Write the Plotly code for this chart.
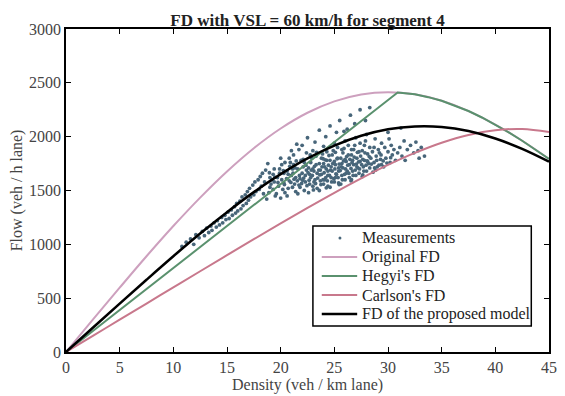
import plotly.graph_objects as go

# ---------------- data ----------------
density_grid = [0, 2.5, 5, 7.5, 10, 12.5, 15, 17.5, 20, 22.5, 25, 27.5, 30,
                32.5, 35, 37.5, 40, 42.5, 45]
original_fd = [0, 300, 597, 889, 1170, 1434, 1677, 1893, 2076, 2222, 2328, 2392,
               2413, 2393, 2333, 2238, 2112, 1962, 1794]
carlson_fd = [0, 150, 300, 450, 600, 750, 899, 1048, 1195, 1339, 1479, 1613,
              1738, 1849, 1944, 2016, 2060, 2071, 2043]
proposed_fd = [0, 225, 449, 671, 889, 1100, 1299, 1485, 1652, 1798, 1917, 2008,
               2068, 2095, 2090, 2052, 1983, 1886, 1767]
hegyi_density = [0, 30.9, 32.5, 33.75, 35, 36.25, 37.5, 38.75, 40, 41.25, 42.5, 43.75, 45]
hegyi_fd = [0, 2410, 2393, 2367, 2333, 2289, 2238, 2178, 2112, 2039, 1962, 1879, 1794]

meas_density = [
    10.8, 11.2, 11.6, 11.9, 12.1, 12.4, 12.7, 12.9, 13.1, 13.3, 13.5, 13.6, 13.8, 14.0, 14.1, 14.3,
    14.5, 14.6, 14.8, 14.9, 15.1, 15.2, 15.4, 15.5, 15.7, 15.8, 15.9, 16.0, 16.2, 16.3, 16.4, 16.5,
    16.7, 16.8, 16.9, 17.0, 17.1, 17.2, 17.4, 17.5, 17.6, 17.7, 17.9, 18.0, 18.1, 18.2, 18.3, 18.4,
    18.5, 18.6,
    18.7, 18.9, 19.0, 19.2, 19.3, 19.1, 19.4, 18.8, 19.5, 19.3, 19.0, 19.4,
    19.6, 19.8, 20.0, 20.1, 20.3, 20.2, 19.9, 20.4, 20.0, 20.4, 19.7, 20.3, 20.1, 19.9,
    20.6, 20.7, 20.8, 21.0, 21.1, 20.9, 21.2, 21.3, 21.4, 20.6, 21.0, 21.4, 20.8, 21.2, 21.1, 20.7,
    21.6, 21.7, 21.8, 22.0, 22.1, 22.2, 22.3, 21.9, 22.4, 22.0, 21.6, 22.3, 22.1, 21.8, 22.4, 21.7, 22.2,
    22.6, 22.7, 22.8, 23.0, 23.1, 23.2, 23.3, 22.9, 23.4, 22.6, 23.0, 23.2, 23.4, 22.8, 23.1, 22.7, 23.3, 23.0,
    23.6, 23.7, 23.8, 24.0, 24.1, 24.2, 24.3, 23.9, 24.4, 23.6, 24.0, 24.2, 24.4, 23.8, 24.1, 23.7, 24.3, 24.0, 24.4,
    24.6, 24.7, 24.8, 25.0, 25.1, 25.2, 25.3, 24.9, 25.4, 24.6, 25.0, 25.2, 25.4, 24.8, 25.1, 24.7, 25.3, 25.0, 25.4,
    25.6, 25.7, 25.8, 26.0, 26.1, 26.2, 26.3, 25.9, 26.4, 25.6, 26.0, 26.2, 26.4, 25.8, 26.1, 25.7, 26.3, 26.0,
    26.6, 26.7, 26.8, 27.0, 27.1, 27.2, 27.3, 26.9, 27.4, 26.6, 27.0, 27.3, 26.8, 27.1, 26.7, 27.4,
    27.6, 27.7, 27.8, 28.0, 28.1, 28.2, 28.3, 27.9, 28.4, 27.6, 28.0, 28.3, 27.8, 28.1,
    28.6, 28.7, 28.9, 29.0, 29.1, 29.3, 29.4, 28.8, 29.2, 28.7, 29.4,
    29.6, 29.8, 30.0, 30.2, 30.3, 30.1, 29.7, 30.4, 30.0,
    30.7, 30.9, 31.1, 31.3, 31.5, 31.2, 31.8, 32.1, 32.4, 32.8, 33.1, 32.6, 33.4, 32.9, 31.6,
    22.5, 23.6, 24.6, 25.5, 26.5, 27.4, 28.3, 21.5, 26.9, 25.9, 27.9,
    20.35, 20.55, 20.95, 21.15, 21.35, 21.55, 21.75, 21.95, 22.15, 22.35, 22.55, 22.65, 22.85, 22.95,
    23.15, 23.25, 23.45, 23.55, 23.65, 23.75, 23.85, 23.95, 24.05, 24.15, 24.25, 24.35, 24.45, 24.55,
    24.65, 24.75, 24.85, 24.95, 25.05, 25.15, 25.25, 25.35, 25.45, 25.55, 25.65, 25.75, 25.85, 25.95,
    26.05, 26.15, 26.25, 26.35, 26.45, 26.55, 26.65, 26.75, 26.85, 26.95, 27.05, 27.15, 27.25, 27.35,
    27.45, 27.55, 27.65, 27.75, 27.85, 27.95, 28.05, 28.25, 28.45, 28.55, 28.75, 28.95, 29.15, 29.35,
    29.55, 29.9, 30.25, 30.55, 20.25, 20.85, 21.45, 22.05, 22.75, 23.35, 23.95, 24.5, 25.1, 25.7,
    26.6, 19.45, 19.75, 18.95, 21.25, 22.45, 23.05, 24.25, 25.45, 26.55, 27.65, 28.85,
]
meas_flow = [
    980, 1020, 1050, 1000, 1090, 1060, 1120, 1080, 1150, 1110, 1170, 1130, 1200, 1160, 1220, 1180,
    1250, 1200, 1270, 1230, 1300, 1240, 1320, 1270, 1350, 1290, 1380, 1310, 1400, 1330, 1440, 1360,
    1460, 1380, 1490, 1410, 1520, 1440, 1550, 1460, 1580, 1490, 1600, 1510, 1630, 1540, 1660, 1470,
    1580, 1690,
    1420, 1480, 1530, 1600, 1650, 1560, 1700, 1750, 1450, 1510, 1620, 1580,
    1470, 1540, 1430, 1600, 1660, 1510, 1700, 1760, 1800, 1480, 1620, 1570, 1740, 1660,
    1450, 1520, 1590, 1640, 1700, 1760, 1830, 1560, 1490, 1680, 1870, 1620, 1800, 1740, 1530, 1650,
    1470, 1550, 1610, 1660, 1720, 1500, 1580, 1780, 1850, 1920, 1700, 1640, 1790, 1530, 1690, 1880, 1760,
    1480, 1560, 1620, 1540, 1680, 1600, 1740, 1800, 1660, 1710, 1870, 1950, 1520, 1760, 1580, 1650, 1820, 1700,
    1500, 1590, 1650, 1560, 1720, 1620, 1780, 1840, 1680, 1750, 1910, 2000, 1540, 1800, 1600, 1690, 1860, 1750, 1640,
    1530, 1620, 1680, 1580, 1740, 1650, 1800, 1870, 1710, 1780, 1940, 2040, 1570, 1830, 1620, 1720, 1900, 1770, 1680,
    1560, 1640, 1710, 1600, 1770, 1680, 1830, 1890, 1740, 1800, 1960, 2070, 1620, 1850, 1660, 1750, 1920, 1790,
    1600, 1680, 1740, 1640, 1800, 1710, 1860, 1920, 1770, 1830, 1990, 1660, 1880, 1720, 1780, 1940,
    1630, 1720, 1780, 1680, 1840, 1750, 1900, 1960, 1800, 1870, 2020, 1710, 1920, 1770,
    1670, 1760, 1820, 1720, 1880, 1790, 1940, 1980, 1850, 1900, 1740,
    1720, 1800, 1860, 1760, 1920, 1980, 1900, 1830, 2040,
    1780, 1850, 1900, 1820, 1960, 2080, 1880, 1920, 1850, 1870, 1900, 1950, 1820, 1800, 1780,
    1990, 2060, 2100, 2150, 2200, 2250, 2270, 1930, 2120, 2050, 2150,
    1555, 1610, 1575, 1660, 1710, 1590, 1640, 1565, 1615, 1735, 1665, 1595, 1690, 1640,
    1725, 1565, 1615, 1690, 1645, 1555, 1720, 1600, 1665, 1785, 1700, 1590, 1735, 1640,
    1690, 1580, 1750, 1610, 1700, 1655, 1795, 1620, 1745, 1685, 1720, 1600, 1775, 1650,
    1700, 1815, 1735, 1660, 1790, 1705, 1760, 1640, 1810, 1690, 1745, 1855, 1765, 1700,
    1820, 1740, 1790, 1680, 1850, 1735, 1775, 1815, 1745, 1860, 1710, 1780, 1735, 1830,
    1775, 1755, 1805, 1880, 1685, 1725, 1775, 1595, 1830, 1855, 1795, 1825, 1855, 1880,
    1880, 1625, 1575, 1665, 1605, 1545, 1505, 1525, 1555, 1590, 1645, 1690,
]

x_ticks = [0, 5, 10, 15, 20, 25, 30, 35, 40, 45]
y_ticks = [0, 500, 1000, 1500, 2000, 2500, 3000]

legend_labels = ["Measurements", "Original FD", "Hegyi's FD", "Carlson's FD", "FD of the proposed model"]

FONT = "Liberation Serif, Times New Roman, serif"
MEAS_COLOR = "rgb(72,102,122)"
ORIG_COLOR = "rgb(205,160,190)"
HEGYI_COLOR = "rgb(90,145,110)"
CARL_COLOR = "rgb(200,120,140)"

fig = go.Figure()
fig.add_trace(go.Scatter(x=meas_density, y=meas_flow, mode="markers", name=legend_labels[0],
                         marker=dict(size=3.8, color=MEAS_COLOR)))
fig.add_trace(go.Scatter(x=density_grid, y=original_fd, mode="lines", name=legend_labels[1],
                         line=dict(color=ORIG_COLOR, width=2, shape="spline")))
fig.add_trace(go.Scatter(x=hegyi_density, y=hegyi_fd, mode="lines", name=legend_labels[2],
                         line=dict(color=HEGYI_COLOR, width=2)))
fig.add_trace(go.Scatter(x=density_grid, y=carlson_fd, mode="lines", name=legend_labels[3],
                         line=dict(color=CARL_COLOR, width=2, shape="spline")))
fig.add_trace(go.Scatter(x=density_grid, y=proposed_fd, mode="lines", name=legend_labels[4],
                         line=dict(color="black", width=2.5, shape="spline")))

axis_common = dict(showgrid=False, zeroline=False, showline=True, linecolor="black", linewidth=1.5,
                   mirror="ticks", ticks="inside", ticklen=5, tickwidth=1.2, tickcolor="black",
                   tickfont=dict(family=FONT, size=16, color="#444444"))

# ---- manual legend box (paper coordinates) ----
PW, PH, L0, T0 = 491.0, 323.0, 66.0, 29.0
def px_x(p):
    return (p - L0) / PW
def px_y(p):
    return (T0 + PH - p) / PH

row_y = [238, 257, 276, 295, 314]
line_colors = [None, ORIG_COLOR, HEGYI_COLOR, CARL_COLOR, "black"]
line_widths = [0, 2, 2, 2, 2.5]

shapes = [dict(type="rect", xref="paper", yref="paper", x0=px_x(317), x1=px_x(539),
               y0=px_y(326), y1=px_y(226), line=dict(color="black", width=1.5),
               fillcolor="white", layer="above")]
annotations = []
for i, lab in enumerate(legend_labels):
    yy = px_y(row_y[i])
    if i == 0:
        shapes.append(dict(type="circle", xref="paper", yref="paper",
                           x0=px_x(343), x1=px_x(346), y0=yy - 1.5 / PH, y1=yy + 1.5 / PH,
                           fillcolor=MEAS_COLOR, line=dict(width=0), layer="above"))
    else:
        shapes.append(dict(type="line", xref="paper", yref="paper", x0=px_x(326), x1=px_x(362),
                           y0=yy, y1=yy, line=dict(color=line_colors[i], width=line_widths[i]),
                           layer="above"))
    annotations.append(dict(text=lab, xref="paper", yref="paper", x=px_x(365), y=yy,
                            xanchor="left", yanchor="middle", showarrow=False,
                            font=dict(family=FONT, size=16, color="#222222")))

annotations += [
    dict(text="Density (veh / km lane)", xref="paper", yref="paper", x=0.5, y=px_y(385),
         xanchor="center", yanchor="middle", showarrow=False,
         font=dict(family=FONT, size=16, color="#444444")),
    dict(text="Flow (veh / h lane)", xref="paper", yref="paper", x=px_x(16), y=0.5,
         xanchor="center", yanchor="middle", showarrow=False, textangle=-90,
         font=dict(family=FONT, size=16, color="#444444")),
]

fig.update_layout(
    width=565, height=396, autosize=False,
    margin=dict(l=66, r=8, t=29, b=44),
    paper_bgcolor="white", plot_bgcolor="white",
    font=dict(family=FONT, size=16, color="#444444"),
    title=dict(text="<b>FD with VSL = 60 km/h for segment 4</b>", x=0.5, xref="paper",
               y=1 - 20 / 396, yref="container", yanchor="middle", xanchor="center",
               font=dict(family=FONT, size=17, color="#222222")),
    xaxis=dict(range=[0, 45], tickvals=x_ticks, **axis_common),
    yaxis=dict(range=[0, 3000], tickvals=y_ticks, **axis_common),
    showlegend=False,
    shapes=shapes,
    annotations=annotations,
)

fig.write_html("out.html")
